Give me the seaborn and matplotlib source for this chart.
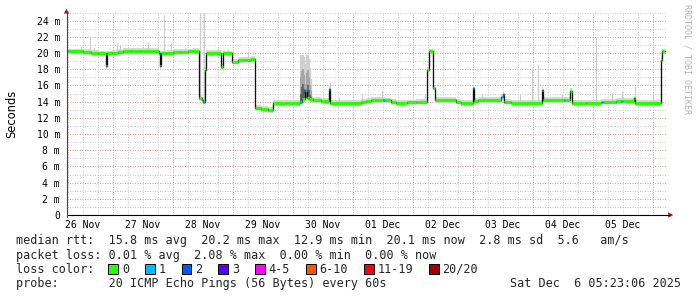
import numpy as np
import matplotlib
matplotlib.use("Agg")
import matplotlib.pyplot as plt
import seaborn as sns
from matplotlib.patches import Rectangle, Polygon
from matplotlib.lines import Line2D

sns.set_style("white")
plt.rcParams["font.family"] = ["DejaVu Sans Mono"]

# ---------------- data (hours since 26 Nov 00:00) ----------------
t_hours = [5.4, 6.0, 12.0, 15.0, 18.0, 21.0, 21.6, 23.5, 26.0, 28.0, 31.0, 40.0,
           42.2, 42.6, 43.2, 45.0, 48.0, 51.0, 54.0, 56.0, 58.4, 59.4, 60.0, 60.6,
           61.0, 67.3, 67.8, 71.5, 74.0, 77.0, 79.0, 80.8, 83.0, 86.0, 88.1, 93.0,
           98.8, 99.6, 100.8, 101.4, 102.5, 104.0, 107.0, 110.3, 110.8, 123.0, 125.0,
           127.0, 132.1, 132.7, 135.0, 137.0, 141.5, 145.0, 149.6, 150.2, 152.1, 152.6,
           161.0, 163.0, 167.8, 168.4, 170.0, 179.2, 179.8, 180.3, 183.0, 195.4, 196.0,
           204.3, 204.9, 206.9, 207.5, 213.0, 219.0, 219.4, 220.0, 225.0, 227.3, 227.9,
           232.2, 232.8, 243.0, 243.6]
median_ms = [20.2, 20.2, 20.1, 20.0, 19.95, 18.4, 19.95, 20.05, 20.15, 20.25, 20.3, 20.25,
             20.0, 18.4, 19.95, 20.05, 20.1, 20.15, 20.2, 20.3, 14.45, 14.2, 14.0, 17.9,
             20.0, 18.3, 19.95, 18.95, 19.1, 19.2, 19.3, 13.2, 13.05, 12.95, 13.8, 13.85,
             14.0, 14.3, 15.5, 14.4, 14.3, 14.2, 14.05, 15.6, 13.8, 13.95, 14.1,
             14.2, 14.2, 14.15, 13.95, 13.8, 13.9, 14.0, 17.9, 20.2, 15.7, 14.2,
             14.0, 13.8, 15.7, 14.1, 14.2, 14.6, 14.9, 14.0, 13.85, 15.5, 14.2,
             14.2, 14.2, 15.3, 13.8, 13.85, 14.0, 14.0, 14.0, 14.05, 14.05, 14.05,
             14.4, 13.8, 19.2, 20.2]
loss_pings = [1, 0, 0, 0, 0, 0, 0, 0, 0, 0, 0, 0,
              1, 0, 0, 0, 0, 0, 0, 0, 0, 0, 1, 0,
              0, 0, 0, 0, 0, 0, 0, 0, 0, 0, 0, 0,
              1, 0, 1, 0, 0, 0, 0, 1, 0, 0, 0,
              0, 1, 0, 0, 0, 0, 0, 0, 0, 0, 0,
              0, 0, 1, 0, 0, 1, 0, 0, 0, 0, 0,
              1, 0, 0, 0, 0, 0, 1, 0, 0, 1, 0,
              0, 0, 0, 0]
t_end = 244.8

spike_hours = [11.0, 14.8, 16.2, 25.5, 26.8, 38.1, 44.4, 47.0, 52.8, 58.8, 60.5,
               66.0, 70.1, 78.0, 110.6, 114.5, 123.5, 131.5, 148.8, 171.5, 180.1,
               186.8, 191.5, 193.9, 203.5, 217.2, 223.5, 227.5, 232.8, 240.1]
spike_top_ms = [20.9, 22.1, 20.6, 21.3, 21.0, 21.4, 24.7, 21.2, 20.8, 26.0, 26.0,
                20.6, 20.5, 20.0, 16.4, 14.5, 14.9, 15.5, 14.9, 14.9, 15.2,
                14.9, 18.1, 18.5, 14.9, 22.0, 15.1, 15.3, 15.9, 15.1]

noisy_hours = [99.3, 99.7, 100.1, 100.5, 100.9, 101.7, 102.1, 102.5, 102.9, 103.3]
noisy_light_top = [19.8, 19.6, 19.8, 19.5, 18.6, 19.8, 19.6, 19.3, 18.2, 16.8]
noisy_mid_top = [17.0, 17.8, 18.0, 17.3, 16.2, 17.6, 17.9, 17.0, 16.0, 15.3]
noisy_dark_top = [15.0, 15.8, 16.2, 15.6, 15.0, 15.6, 16.0, 15.4, 14.8, 14.6]

day_labels = ["26 Nov", "27 Nov", "28 Nov", "29 Nov", "30 Nov",
              "01 Dec", "02 Dec", "03 Dec", "04 Dec", "05 Dec"]
ytick_ms = list(range(0, 25, 2))

loss_labels = ["0", "1", "2", "3", "4-5", "6-10", "11-19", "20/20"]
loss_colors = ["#26ff00", "#00b8ff", "#0059ff", "#5e00ff", "#ff00ff",
               "#ff5500", "#ff0000", "#a10000"]

rtt_stats = [15.8, 20.2, 12.9, 20.1, 2.8]
rtt_am_s = 5.6
loss_stats = [0.01, 2.08, 0.00, 0.00]
probe_text = "20 ICMP Echo Pings (56 Bytes) every 60s"
stamp_text = "Sat Dec  6 05:23:06 2025"

# ---------------- figure ----------------
W, H = 697, 297
fig = plt.figure(figsize=(W / 100, H / 100), dpi=100)
fig.patch.set_facecolor("white")

def fx(x):
    return x / W

def fy(y):
    return 1 - y / H

ax_bottom_px, ax_top_px = 215.0, 12.6
ax = fig.add_axes([fx(66.5), fy(ax_bottom_px), 600 / W, (ax_bottom_px - ax_top_px) / H])
ax.set_facecolor("white")
ax.set_xlim(5.4, 245.4)
ax.set_ylim(0, 25)
for s in ax.spines.values():
    s.set_visible(False)

# grid
red_grid = "#eb9e9e"
grey_grid = "#cccccc"
dots = (0, (1, 1.5))
xmin, xmax = ax.get_xlim()
for v in range(1, 26):
    ax.hlines(v, xmin, xmax, colors=red_grid if v % 2 == 0 else grey_grid,
              linestyles=[dots], lw=0.72, zorder=0.5)
for h in np.arange(0, 246, 6):
    if h <= xmin or h >= xmax:
        continue
    ax.vlines(h, 0, 25, colors=red_grid if h % 24 == 0 else grey_grid,
              linestyles=[dots], lw=0.72, zorder=0.5)

# smoke
t_all = np.array(t_hours + [t_end])
m_all = np.array(median_ms + [median_ms[-1]])
ax.fill_between(t_all, m_all - 0.32, m_all + 0.36, step="post",
                color="#d9d9d9", lw=0, zorder=1)

def base_at(hs):
    idx = np.searchsorted(np.array(t_hours), np.array(hs), side="right") - 1
    return np.array(median_ms)[idx]

ax.vlines(spike_hours, base_at(spike_hours), spike_top_ms, colors="#cdcdcd",
          lw=0.9, zorder=1.1)
nb = base_at(noisy_hours)
ax.vlines(noisy_hours, nb, noisy_light_top, colors="#cfcfcf", lw=1.7, zorder=1.2)
ax.vlines(noisy_hours, nb, noisy_mid_top, colors="#a6a6a6", lw=1.4, zorder=1.3)
ax.vlines(noisy_hours, nb, noisy_dark_top, colors="#5a5a5a", lw=1.1, zorder=1.4)

# median: black step line + loss-coloured segments
sns.lineplot(x=t_all, y=m_all, drawstyle="steps-post", color="#111111",
             lw=0.95, estimator=None, sort=False, ax=ax, zorder=2)
seg_colors = [loss_colors[l] for l in loss_pings]
ax.hlines(median_ms, t_hours, list(t_all[1:]), colors=seg_colors, lw=2.3, zorder=3)

# ticks
ax.set_yticks(ytick_ms)
ax.set_yticklabels(["0" if v == 0 else f"{v} m" for v in ytick_ms])
ax.set_xticks([12 + 24 * i for i in range(len(day_labels))])
ax.set_xticklabels(day_labels)
ax.set_xticks([24 * i for i in range(1, 11)], minor=True)
ax.tick_params(axis="both", which="major", length=0, labelsize=7, colors="black")
ax.tick_params(axis="y", which="major", pad=4.6)
ax.tick_params(axis="x", which="major", pad=3.6)
ax.tick_params(axis="x", which="minor", length=2.0, width=0.7, color="#d07070", direction="out")

# axes lines and arrows
axis_col = "#000000"
fig.add_artist(Line2D([fx(66.5), fx(669)], [fy(215), fy(215)], color=axis_col, lw=0.8,
                      transform=fig.transFigure))
fig.add_artist(Line2D([fx(66.5), fx(66.5)], [fy(217), fy(12)], color="#444444", lw=0.8,
                      transform=fig.transFigure))
arrow_col = "#9b1c1c"
fig.add_artist(Polygon([[fx(66.5), fy(8.8)], [fx(63.8), fy(13.6)], [fx(69.2), fy(13.6)]],
                       closed=True, color=arrow_col, transform=fig.transFigure, lw=0))
fig.add_artist(Polygon([[fx(673.2), fy(215)], [fx(668.2), fy(212.3)], [fx(668.2), fy(217.7)]],
                       closed=True, color=arrow_col, transform=fig.transFigure, lw=0))

# labels
fig.text(fx(11.5), fy(114), "Seconds", rotation=90, ha="center", va="center",
         fontsize=8.3, family=["DejaVu Sans"], color="black")
fig.text(fx(687.5), fy(59), "RRDTOOL / TOBI OETIKER", rotation=270, ha="center",
         va="center", fontsize=6, color="#b4b4b4")

fs = 8.5
line1 = (f"median rtt:  {rtt_stats[0]:.1f} ms avg  {rtt_stats[1]:.1f} ms max  "
         f"{rtt_stats[2]:.1f} ms min  {rtt_stats[3]:.1f} ms now  {rtt_stats[4]:.1f} ms sd  "
         f"{rtt_am_s:.1f}   am/s")
line2 = (f"packet loss: {loss_stats[0]:.2f} % avg  {loss_stats[1]:.2f} % max  "
         f"{loss_stats[2]:.2f} % min  {loss_stats[3]:.2f} % now")
fig.text(fx(16), fy(244.3), line1, fontsize=fs, va="baseline", ha="left")
fig.text(fx(16), fy(259.0), line2, fontsize=fs, va="baseline", ha="left")
fig.text(fx(16), fy(272.8), "loss color:", fontsize=fs, va="baseline", ha="left")
fig.text(fx(16), fy(287.0), "probe:       " + probe_text, fontsize=fs, va="baseline", ha="left")
fig.text(fx(681), fy(287.0), stamp_text, fontsize=fs, va="baseline", ha="right")

x0 = 108.3
cw = 7.1
for lab, col in zip(loss_labels, loss_colors):
    fig.add_artist(Rectangle((fx(x0), fy(273.6)), 9.6 / W, 9.6 / H, facecolor=col,
                             edgecolor="black", lw=0.7, transform=fig.transFigure))
    fig.text(fx(x0 + 13.5), fy(272.8), lab, fontsize=fs, va="baseline", ha="left")
    x0 = x0 + 12 + len(lab) * cw + 17.6

fig.savefig("out.png", dpi=100, facecolor="white")
